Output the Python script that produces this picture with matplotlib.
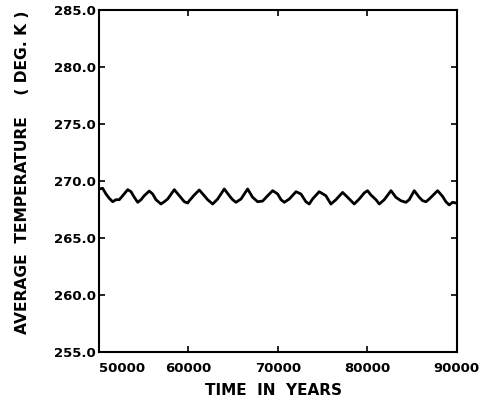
import matplotlib
matplotlib.use("Agg")
import matplotlib.pyplot as plt

years = [50030, 50410, 50780, 51150, 51530, 51900, 52270, 52650, 53210, 53580,
         53950, 54330, 54700, 55060, 55620, 56000, 56370, 56930, 57300, 57680,
         58420, 58980, 59540, 59920, 60100, 60650, 61210, 61770, 62150, 62710,
         63270, 64010, 64570, 64940, 65320, 65880, 66620, 67180, 67740, 68300,
         68860, 69420, 69980, 70350, 70720, 71280, 72030, 72580, 73140, 73510,
         73880, 74620, 75370, 75930, 76500, 77240, 77800, 78540, 79100, 79660,
         80030, 80410, 80970, 81340, 81900, 82650, 83200, 83760, 84320, 84690,
         85250, 85810, 86190, 86560, 86930, 87300, 87860, 88420, 88790, 89160,
         89540, 89910]
temps = [269.30, 269.36, 268.86, 268.48, 268.18, 268.36, 268.36, 268.71, 269.24, 269.06,
         268.57, 268.13, 268.36, 268.71, 269.12, 268.86, 268.36, 267.98, 268.18, 268.42,
         269.24, 268.71, 268.18, 268.07, 268.27, 268.77, 269.21, 268.71, 268.36, 267.98,
         268.42, 269.30, 268.71, 268.36, 268.13, 268.42, 269.30, 268.57, 268.18, 268.24,
         268.71, 269.15, 268.86, 268.36, 268.13, 268.42, 269.06, 268.86, 268.18, 267.98,
         268.42, 269.06, 268.71, 267.98, 268.36, 269.00, 268.57, 267.98, 268.42, 268.95,
         269.15, 268.77, 268.36, 267.98, 268.36, 269.15, 268.57, 268.27, 268.13, 268.36,
         269.15, 268.57, 268.27, 268.18, 268.42, 268.71, 269.15, 268.65, 268.18, 267.90,
         268.13, 268.07]

xticks = [50000, 60000, 70000, 80000, 90000]
xtick_labels = ["50000", "60000", "70000", "80000", "90000"]
yticks = [255.0, 260.0, 265.0, 270.0, 275.0, 280.0, 285.0]
ytick_labels = ["255.0", "260.0", "265.0", "270.0", "275.0", "280.0", "285.0"]

fig = plt.figure(figsize=(4.93, 4.08), dpi=100)
ax = fig.add_axes([0.2008, 0.1373, 0.7256, 0.8382])
ax.plot(years, temps, color="black", lw=2.0, solid_joinstyle="round")
ax.set_xlim(50000, 90000)
ax.set_ylim(255, 285)

ax.set_xticks(xticks)
ax.set_xticklabels(xtick_labels, fontsize=9.5, fontweight="bold")
ax.set_yticks(yticks)
ax.set_yticklabels(ytick_labels, fontsize=9.5, fontweight="bold")
ax.xaxis.get_ticklabels()[0].set_horizontalalignment("left")

ax.tick_params(axis="both", direction="in", width=1.2, length=4.5,
               top=True, right=True)
ax.tick_params(axis="y", which="major", left=True, pad=2)
ax.tick_params(axis="x", pad=7)

for s in ax.spines.values():
    s.set_linewidth(1.5)

ax.set_xlabel("TIME  IN  YEARS", fontsize=11, fontweight="bold")
ax.xaxis.set_label_coords(0.489, -0.114)
ax.xaxis.label.set_verticalalignment("center")
ax.set_ylabel("AVERAGE  TEMPERATURE    ( DEG. K )", fontsize=11.2, fontweight="bold")
ax.yaxis.set_label_coords(-0.215, 0.526)
ax.yaxis.label.set_verticalalignment("center")

fig.savefig("out.png", dpi=100)
